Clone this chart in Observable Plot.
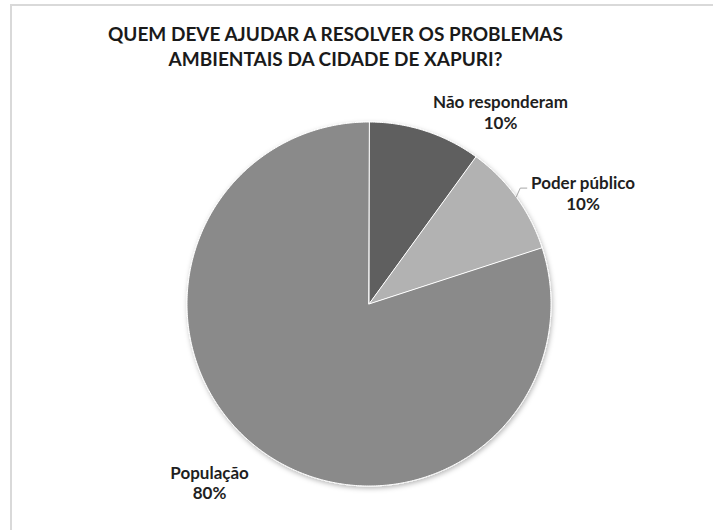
<!DOCTYPE html>
<html>
<head>
<meta charset="utf-8">
<script src="https://cdn.jsdelivr.net/npm/d3@7"></script>
<script src="https://cdn.jsdelivr.net/npm/@observablehq/plot@0.6"></script>
<style>
  html, body { margin: 0; padding: 0; background: #fff; }
  #wrap { position: relative; width: 713px; height: 530px; overflow: hidden; }
  #frame { position: absolute; left: 10px; top: 4px; width: 720px; height: 540px;
           border-left: 2px solid #d9d9d9; border-top: 2px solid #d9d9d9; }
  #title { position: absolute; left: 0; top: 21px; width: 671px; text-align: center;
           font-family: Lato, "Open Sans", sans-serif; font-weight: 700; font-size: 19px;
           line-height: 25px; color: #1a1a1a; }
  #chart { position: absolute; left: 0; top: 0; }
</style>
</head>
<body>
<div id="wrap">
  <div id="frame"></div>
  <div id="chart"></div>
  <div id="title">QUEM DEVE AJUDAR A RESOLVER OS PROBLEMAS<br>AMBIENTAIS DA CIDADE DE XAPURI?</div>
</div>
<script>
// ---- data ----
const categories = ["Não responderam", "Poder público", "População"];
const values = [10, 10, 80];
const percentLabels = ["10%", "10%", "80%"];
const colors = ["#5f5f5f", "#b2b2b2", "#8a8a8a"];

// ---- layout (pixels) ----
const W = 713, H = 530;
const cx = 368.5, cy = 303.5, R = 182;
// label anchor positions in unit-radius coordinates (layout only)
const labelX = [0.7225, 1.176, -0.876];
const labelY = [1.056, 0.61, -0.982];

const arcs = d3.pie().sort(null).value(d => d)(values);

// slice polygons in unit coordinates (y up)
const slicePts = [];
arcs.forEach((a, i) => {
  slicePts.push({cat: categories[i], x: 0, y: 0});
  const n = Math.max(8, Math.ceil((a.endAngle - a.startAngle) / 0.01));
  for (let k = 0; k <= n; k++) {
    const t = a.startAngle + (a.endAngle - a.startAngle) * k / n;
    slicePts.push({cat: categories[i], x: Math.sin(t), y: Math.cos(t)});
  }
});

const labels = categories.map((c, i) => ({
  text: c + "\n" + percentLabels[i], x: labelX[i], y: labelY[i]
}));

// leader line for "Poder público" from slice edge at mid-angle
const mid1 = (arcs[1].startAngle + arcs[1].endAngle) / 2;
const leader = [
  {x: Math.sin(mid1), y: Math.cos(mid1)},
  {x: Math.sin(mid1) + 0.022, y: Math.cos(mid1) + 0.049},
  {x: Math.sin(mid1) + 0.058, y: Math.cos(mid1) + 0.049}
];

const chart = Plot.plot({
  width: W, height: H,
  margin: 0,
  x: {domain: [-cx / R, (W - cx) / R], range: [0, W], axis: null},
  y: {domain: [(cy - H) / R, cy / R], range: [H, 0], axis: null},
  color: {domain: categories, range: colors},
  marks: [
    Plot.line(slicePts, {x: "x", y: "y", z: "cat", fill: "cat", stroke: "#ffffff",
      strokeWidth: 1, curve: "linear-closed"}),
    Plot.line(leader, {x: "x", y: "y", stroke: "#a6a6a6", strokeWidth: 1}),
    Plot.text(labels, {x: "x", y: "y", text: "text", fontSize: 17, fontWeight: 700,
      fill: "#1f1f1f", lineHeight: 1.2, fontFamily: "Lato, 'Open Sans', sans-serif"})
  ]
});
chart.style.background = "transparent";
document.getElementById("chart").appendChild(chart);

// subtle soft shadow under the pie
const ns = "http://www.w3.org/2000/svg";
const defs = document.createElementNS(ns, "defs");
defs.innerHTML = '<filter id="pieShadow" x="-20%" y="-20%" width="140%" height="140%">' +
  '<feDropShadow dx="1" dy="2" stdDeviation="2.5" flood-color="#000" flood-opacity="0.28"/></filter>';
chart.insertBefore(defs, chart.firstChild);
const pieG = chart.querySelector('g[aria-label="line"]');
if (pieG) pieG.setAttribute("filter", "url(#pieShadow)");
</script>
</body>
</html>
